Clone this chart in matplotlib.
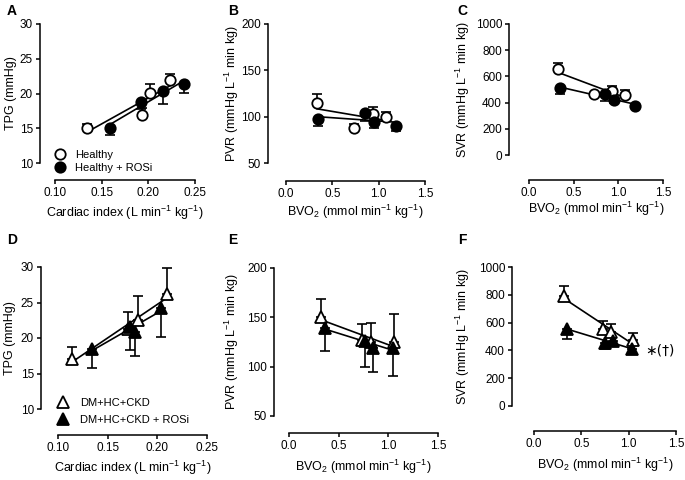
import numpy as np
import matplotlib.pyplot as plt
from matplotlib.lines import Line2D

plt.rcParams['font.family'] = ['Liberation Sans', 'DejaVu Sans']
plt.rcParams['mathtext.fontset'] = 'custom'
plt.rcParams['mathtext.rm'] = 'Liberation Sans'
plt.rcParams['mathtext.it'] = 'Liberation Sans:italic'
plt.rcParams['mathtext.bf'] = 'Liberation Sans:bold'

# ---- data ----
# A: TPG vs cardiac index, healthy rats
a_x_open = [0.1346, 0.1936, 0.2018, 0.2236]
a_y_open = [15.0, 16.9, 20.1, 22.0]
a_e_open = [0.6, 1.0, 1.3, 0.8]
a_x_fill = [0.159, 0.1921, 0.2161, 0.2386]
a_y_fill = [15.1, 18.8, 20.4, 21.4]
a_e_fill = [1.1, 1.0, 1.9, 1.3]

# B: PVR vs BVO2, healthy
b_x_open = [0.336, 0.729, 0.936, 1.079]
b_y_open = [114.4, 87.4, 102.5, 100.0]
b_e_open = [10.0, 5.0, 7.5, 5.0]
b_x_fill = [0.346, 0.854, 0.954, 1.186]
b_y_fill = [97.1, 104.3, 94.6, 90.0]
b_e_fill = [7.0, 9.0, 7.0, 6.0]

# C: SVR vs BVO2, healthy
c_x_open = [0.33, 0.724, 0.93, 1.08]
c_y_open = [656, 466, 491, 458]
c_e_open = [50, 10, 35, 35]
c_x_fill = [0.349, 0.847, 0.949, 1.181]
c_y_fill = [509, 466, 420, 376]
c_e_fill = [43, 50, 25, 12]

# D: TPG vs cardiac index, DM+HC+CKD
d_x_open = [0.1144, 0.1707, 0.1802, 0.2094]
d_y_open = [17.0, 21.3, 22.6, 26.2]
d_e_open = [1.7, 2.4, 3.3, 3.6]
d_x_fill = [0.1339, 0.1724, 0.1775, 0.2035]
d_y_fill = [18.4, 21.6, 20.8, 24.2]
d_e_fill = [2.6, 3.3, 3.3, 4.1]

# E: PVR vs BVO2, DM+HC+CKD
e_x_open = [0.325, 0.735, 0.829, 1.057]
e_y_open = [150.7, 127.0, 125.3, 125.3]
e_e_open = [18.0, 16.0, 18.6, 28.0]
e_x_fill = [0.366, 0.763, 0.846, 1.047]
e_y_fill = [138.8, 126.3, 118.9, 118.9]
e_e_fill = [23.0, 27.0, 24.7, 28.0]

# F: SVR vs BVO2, DM+HC+CKD
f_x_open = [0.32, 0.729, 0.817, 1.045]
f_y_open = [790, 557, 533, 472]
f_e_open = [70, 55, 60, 55]
f_x_fill = [0.348, 0.753, 0.834, 1.035]
f_y_fill = [557, 451, 468, 412]
f_e_fill = [73, 40, 36, 25]

ci_ticks = [0.10, 0.15, 0.20, 0.25]
bvo_ticks = [0.0, 0.5, 1.0, 1.5]
tpg_ticks = [10, 15, 20, 25, 30]
pvr_ticks = [50, 100, 150, 200]
svr_ticks = [0, 200, 400, 600, 800, 1000]

W, H = 685, 480
fig = plt.figure(figsize=(W / 100, H / 100), dpi=100)


def make_ax(l, r, t, b, lo, bo):
    ax = fig.add_axes([l / W, 1 - b / H, (r - l) / W, (b - t) / H])
    ax.spines[['top', 'right']].set_visible(False)
    ax.spines['left'].set_position(('outward', lo * 0.72))
    ax.spines['bottom'].set_position(('outward', bo * 0.72))
    for s in ['left', 'bottom']:
        ax.spines[s].set_linewidth(1.1)
    ax.tick_params(width=1.1, length=3, labelsize=8.5, pad=2)
    ax.patch.set_alpha(0)
    return ax


def draw(ax, xo, yo, eo, xf, yf, ef, marker, ms):
    for x, y, e, up in [(xo, yo, eo, True), (xf, yf, ef, False)]:
        x = np.array(x)
        y = np.array(y)
        k, c = np.polyfit(x, y, 1)
        xs = np.array([x.min(), x.max()])
        ax.plot(xs, k * xs + c, color='k', lw=1.2, zorder=2, clip_on=False)
        z = np.zeros_like(y)
        yerr = [z, e] if up else [e, z]
        ax.errorbar(x, y, yerr=yerr, fmt='none', ecolor='k', elinewidth=1.2,
                    capsize=3.5, capthick=1.2, zorder=3, clip_on=False)
    ax.plot(xo, yo, marker, ls='none', ms=ms, mfc='white', mec='k', mew=1.3,
            zorder=4, clip_on=False)
    ax.plot(xf, yf, marker, ls='none', ms=ms, mfc='k', mec='k', mew=1.3,
            zorder=4, clip_on=False)


def labels(ax, xl, xly, yl, ylx):
    ax.set_xlabel(xl, fontsize=9, va='center')
    ax.set_ylabel(yl, fontsize=9, va='center')
    bb = ax.get_position()
    ax.xaxis.set_label_coords((bb.x0 + bb.x1) / 2, 1 - xly / H, transform=fig.transFigure)
    ax.yaxis.set_label_coords(ylx / W, (bb.y0 + bb.y1) / 2, transform=fig.transFigure)


ci_lab = 'Cardiac index (L min$^{-1}$ kg$^{-1}$)'
bvo_lab = 'BVO$_2$ (mmol min$^{-1}$ kg$^{-1}$)'
tpg_lab = 'TPG (mmHg)'
pvr_lab = 'PVR (mmHg L$^{-1}$ min kg)'
svr_lab = 'SVR (mmHg L$^{-1}$ min kg)'

# ---- top row ----
axA = make_ax(55, 195, 24, 163, 15, 17)
draw(axA, a_x_open, a_y_open, a_e_open, a_x_fill, a_y_fill, a_e_fill, 'o', 7.5)
axA.set_xlim(0.10, 0.25)
axA.set_ylim(10, 30)
axA.set_xticks(ci_ticks, [f'{t:.2f}' for t in ci_ticks])
axA.set_yticks(tpg_ticks)
labels(axA, ci_lab, 213, tpg_lab, 11)

axB = make_ax(286, 425, 24, 163, 18, 18)
draw(axB, b_x_open, b_y_open, b_e_open, b_x_fill, b_y_fill, b_e_fill, 'o', 7.5)
axB.set_xlim(0, 1.5)
axB.set_ylim(50, 200)
axB.set_xticks(bvo_ticks, [f'{t:.1f}' for t in bvo_ticks])
axB.set_yticks(pvr_ticks)
labels(axB, bvo_lab, 212, pvr_lab, 232)

axC = make_ax(529, 663, 24, 155, 20, 25)
draw(axC, c_x_open, c_y_open, c_e_open, c_x_fill, c_y_fill, c_e_fill, 'o', 7.5)
axC.set_xlim(0, 1.5)
axC.set_ylim(0, 1000)
axC.set_xticks(bvo_ticks, [f'{t:.1f}' for t in bvo_ticks])
axC.set_yticks(svr_ticks)
labels(axC, bvo_lab, 209, svr_lab, 463)

# ---- bottom row ----
axD = make_ax(58, 207, 267, 409, 17, 26)
draw(axD, d_x_open, d_y_open, d_e_open, d_x_fill, d_y_fill, d_e_fill, '^', 8.5)
axD.set_xlim(0.10, 0.25)
axD.set_ylim(10, 30)
axD.set_xticks(ci_ticks, [f'{t:.2f}' for t in ci_ticks])
axD.set_yticks(tpg_ticks)
labels(axD, ci_lab, 468, tpg_lab, 10)

axE = make_ax(289, 438, 268, 416, 15, 17)
draw(axE, e_x_open, e_y_open, e_e_open, e_x_fill, e_y_fill, e_e_fill, '^', 8.5)
axE.set_xlim(0, 1.5)
axE.set_ylim(50, 200)
axE.set_xticks(bvo_ticks, [f'{t:.1f}' for t in bvo_ticks])
axE.set_yticks(pvr_ticks)
labels(axE, bvo_lab, 467, pvr_lab, 232)

axF = make_ax(534, 676, 267, 406, 22, 25)
draw(axF, f_x_open, f_y_open, f_e_open, f_x_fill, f_y_fill, f_e_fill, '^', 8.5)
axF.set_xlim(0, 1.5)
axF.set_ylim(0, 1000)
axF.set_xticks(bvo_ticks, [f'{t:.1f}' for t in bvo_ticks])
axF.set_yticks(svr_ticks)
labels(axF, bvo_lab, 465, svr_lab, 463)
axF.text(1.17, 400, '\u2217(\u2020)', fontsize=10, ha='left', va='center',
         family=['DejaVu Sans'])

# ---- legends ----
hA = [Line2D([], [], marker='o', ls='none', ms=7.5, mfc='white', mec='k', mew=1.3),
      Line2D([], [], marker='o', ls='none', ms=7.5, mfc='k', mec='k', mew=1.3)]
axA.legend(hA, ['Healthy', 'Healthy + ROSi'], loc='upper left',
           bbox_to_anchor=(54 / W, 1 - 150 / H), bbox_transform=fig.transFigure,
           frameon=False, fontsize=8, handlelength=1.0, handletextpad=0.9,
           labelspacing=0.25, borderpad=0, borderaxespad=0)
hD = [Line2D([], [], marker='^', ls='none', ms=8.5, mfc='white', mec='k', mew=1.3),
      Line2D([], [], marker='^', ls='none', ms=8.5, mfc='k', mec='k', mew=1.3)]
axD.legend(hD, ['DM+HC+CKD', 'DM+HC+CKD + ROSi'], loc='upper left',
           bbox_to_anchor=(57 / W, 1 - 398 / H), bbox_transform=fig.transFigure,
           frameon=False, fontsize=8, handlelength=1.0, handletextpad=1.1,
           labelspacing=0.65, borderpad=0, borderaxespad=0)

# panel letters
for let, x, y in [('A', 12, 11), ('B', 233, 11), ('C', 462, 11),
                  ('D', 12, 240), ('E', 233, 240), ('F', 462, 240)]:
    fig.text(x / W, 1 - y / H, let, fontsize=10, fontweight='bold',
             ha='center', va='center')

plt.savefig('out.png', dpi=100)
